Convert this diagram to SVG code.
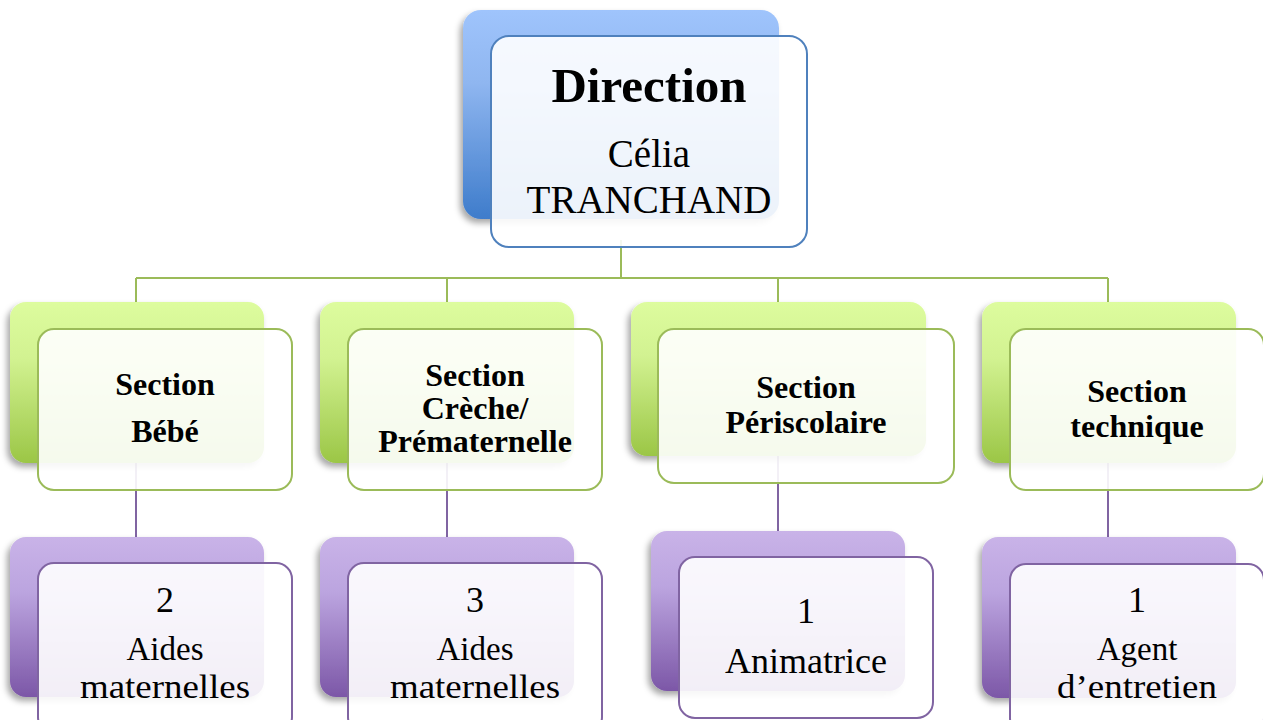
<svg xmlns="http://www.w3.org/2000/svg" width="1263" height="720" viewBox="0 0 1263 720">
<style>
.t{font-family:"Liberation Serif","Times New Roman",serif;fill:#000;text-anchor:middle}
.b{font-weight:bold}
.front{fill:#fff;fill-opacity:0.9;stroke-width:2}
.fb{stroke:#4f81bd}.fg{stroke:#9bbb59}.fp{stroke:#8064a2}
.cg{stroke:#9bbb59;stroke-width:2;fill:none}
.cp{stroke:#8064a2;stroke-width:2;fill:none}
</style>
<defs>
<linearGradient id="gb" x1="0" y1="0" x2="0" y2="1"><stop offset="0" stop-color="#9fc4fc"/><stop offset="0.35" stop-color="#8fb6f0"/><stop offset="1" stop-color="#3e7ccb"/></linearGradient>
<linearGradient id="gg" x1="0" y1="0" x2="0" y2="1"><stop offset="0" stop-color="#ddfc9e"/><stop offset="0.35" stop-color="#d2f291"/><stop offset="1" stop-color="#9bc646"/></linearGradient>
<linearGradient id="gp" x1="0" y1="0" x2="0" y2="1"><stop offset="0" stop-color="#c9b3e8"/><stop offset="0.35" stop-color="#bba4df"/><stop offset="1" stop-color="#7c57a7"/></linearGradient>
<filter id="sh" x="-10%" y="-10%" width="120%" height="125%"><feDropShadow dx="-3" dy="4" stdDeviation="3" flood-color="#000" flood-opacity="0.35"/></filter>
</defs>
<g id="connectors">
<path class="cg" d="M621 240V278M136 278H1108M136 278V303M447 278V303M778 278V303M1108 278V303"/>
<path class="cp" d="M136 463V538M447 463V538M778 456V531M1108 463V538"/>
</g>
<g id="direction">
<rect x="463" y="10" width="316" height="209" rx="18" fill="url(#gb)" filter="url(#sh)"/>
<rect class="front fb" x="491" y="36" width="316" height="211" rx="18"/>
<text class="t b" x="649" y="102" font-size="49">Direction</text>
<text class="t" x="649" y="167" font-size="39">Célia</text>
<text class="t" x="649" y="213" font-size="39">TRANCHAND</text>
</g>
<g id="section-bebe">
<rect x="10" y="302" width="254" height="161" rx="16" fill="url(#gg)" filter="url(#sh)"/>
<rect class="front fg" x="38" y="329" width="254" height="161" rx="16"/>
<text class="t b" x="165" y="395" font-size="32">Section</text>
<text class="t b" x="165" y="442" font-size="32">Bébé</text>
</g>
<g id="section-creche">
<rect x="320" y="302" width="254" height="161" rx="16" fill="url(#gg)" filter="url(#sh)"/>
<rect class="front fg" x="348" y="329" width="254" height="161" rx="16"/>
<text class="t b" x="475" y="386" font-size="32">Section</text>
<text class="t b" x="475" y="419" font-size="32">Crèche/</text>
<text class="t b" x="475" y="452" font-size="32">Prématernelle</text>
</g>
<g id="section-periscolaire">
<rect x="631" y="302" width="295" height="154" rx="16" fill="url(#gg)" filter="url(#sh)"/>
<rect class="front fg" x="658" y="329" width="296" height="154" rx="16"/>
<text class="t b" x="806" y="398" font-size="32">Section</text>
<text class="t b" x="806" y="433" font-size="32">Périscolaire</text>
</g>
<g id="section-technique">
<rect x="982" y="302" width="254" height="161" rx="16" fill="url(#gg)" filter="url(#sh)"/>
<rect class="front fg" x="1010" y="329" width="254" height="161" rx="16"/>
<text class="t b" x="1137" y="402" font-size="32">Section</text>
<text class="t b" x="1137" y="437" font-size="32">technique</text>
</g>
<g id="aides-bebe">
<rect x="10" y="537" width="254" height="160" rx="16" fill="url(#gp)" filter="url(#sh)"/>
<rect class="front fp" x="38" y="563" width="254" height="170" rx="16"/>
<text class="t" x="165" y="612" font-size="36">2</text>
<text class="t" x="165" y="660" font-size="33">Aides</text>
<text class="t" x="165" y="698" font-size="33" textLength="170" lengthAdjust="spacingAndGlyphs">maternelles</text>
</g>
<g id="aides-creche">
<rect x="320" y="537" width="254" height="160" rx="16" fill="url(#gp)" filter="url(#sh)"/>
<rect class="front fp" x="348" y="563" width="254" height="170" rx="16"/>
<text class="t" x="475" y="612" font-size="36">3</text>
<text class="t" x="475" y="660" font-size="33">Aides</text>
<text class="t" x="475" y="698" font-size="33" textLength="170" lengthAdjust="spacingAndGlyphs">maternelles</text>
</g>
<g id="animatrice">
<rect x="651" y="531" width="254" height="160" rx="16" fill="url(#gp)" filter="url(#sh)"/>
<rect class="front fp" x="679" y="557" width="254" height="161" rx="16"/>
<text class="t" x="806" y="623" font-size="36">1</text>
<text class="t" x="806" y="673" font-size="36">Animatrice</text>
</g>
<g id="agent">
<rect x="982" y="537" width="254" height="161" rx="16" fill="url(#gp)" filter="url(#sh)"/>
<rect class="front fp" x="1010" y="564" width="254" height="170" rx="16"/>
<text class="t" x="1137" y="612" font-size="36">1</text>
<text class="t" x="1137" y="660" font-size="33">Agent</text>
<text class="t" x="1137" y="698" font-size="33" textLength="160" lengthAdjust="spacingAndGlyphs">d’entretien</text>
</g>
</svg>
